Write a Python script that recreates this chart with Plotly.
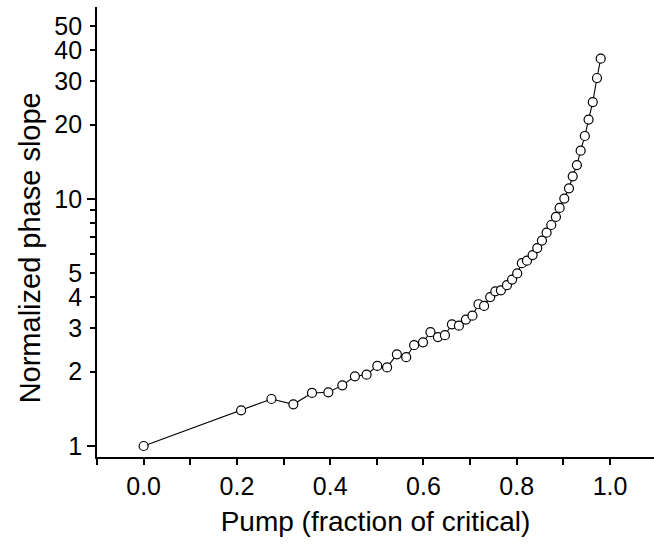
import plotly.graph_objects as go

pump = [0.0, 0.209, 0.274, 0.321, 0.361, 0.396, 0.426, 0.453, 0.478, 0.501,
        0.522, 0.543, 0.563, 0.580, 0.599, 0.615, 0.631, 0.646, 0.661, 0.676,
        0.691, 0.705, 0.718, 0.730, 0.743, 0.754, 0.766, 0.779, 0.790, 0.801,
        0.811, 0.822, 0.834, 0.844, 0.854, 0.864, 0.874, 0.884, 0.892, 0.902,
        0.912, 0.920, 0.929, 0.937, 0.946, 0.954, 0.963, 0.972, 0.980]
slope = [1.0, 1.395, 1.55, 1.475, 1.64, 1.65, 1.76, 1.915, 1.945, 2.11,
         2.08, 2.35, 2.29, 2.56, 2.63, 2.89, 2.76, 2.81, 3.11, 3.07,
         3.25, 3.37, 3.75, 3.69, 4.01, 4.23, 4.27, 4.48, 4.72, 5.0,
         5.5, 5.63, 5.93, 6.33, 6.79, 7.31, 7.85, 8.46, 9.2, 10.04,
         11.05, 12.36, 13.73, 15.7, 18.0, 20.97, 24.7, 30.9, 37.0]

y_labeled = [1, 2, 3, 4, 5, 10, 20, 30, 40, 50]
y_minor = [6, 7, 8, 9]
y_decades = [1, 10]
x_ticks = [0.0, 0.2, 0.4, 0.6, 0.8, 1.0]

FONT = "Liberation Sans, Arial, sans-serif"
YR = [-0.0445, 1.7775]

fig = go.Figure()
fig.add_trace(go.Scatter(
    x=pump, y=slope, mode="lines+markers",
    line=dict(color="black", width=1.1),
    marker=dict(symbol="circle", size=9, color="white",
                line=dict(color="black", width=1.2)),
    showlegend=False, hoverinfo="skip"))
# helper trace for the decade tick overlay axis
fig.add_trace(go.Scatter(x=[pump[0]], y=[slope[0]], yaxis="y2", mode="markers",
                         marker=dict(opacity=0), showlegend=False, hoverinfo="skip"))

fig.update_layout(
    width=654, height=550,
    margin=dict(l=97, r=0, t=7, b=93),
    paper_bgcolor="white", plot_bgcolor="white",
    font=dict(family=FONT, color="black"),
    xaxis=dict(
        range=[-0.1, 1.0943], showgrid=False, zeroline=False,
        showline=True, linecolor="black", linewidth=1.8,
        tickmode="array", tickvals=x_ticks, ticktext=[f"{v:.1f}" for v in x_ticks],
        ticks="outside", ticklen=6, tickwidth=1.5, tickcolor="black",
        tickfont=dict(size=25, family=FONT),
        minor=dict(tickmode="array", tickvals=[-0.1, 0.1, 0.3, 0.5, 0.7, 0.9, 1.1],
                   ticks="outside", ticklen=6, tickwidth=1.5, tickcolor="black"),
        title=dict(text="Pump (fraction of critical)", font=dict(size=28, family=FONT), standoff=12),
    ),
    yaxis=dict(
        type="log", range=YR, showgrid=False, zeroline=False,
        showline=True, linecolor="black", linewidth=1.8,
        tickmode="array", tickvals=y_labeled, ticktext=[str(v) for v in y_labeled],
        ticks="outside", ticklen=5, tickwidth=1.5, tickcolor="black",
        ticklabelstandoff=3,
        tickfont=dict(size=25, family=FONT),
        minor=dict(tickmode="array", tickvals=y_minor,
                   ticks="outside", ticklen=5, tickwidth=1.5, tickcolor="black"),
    ),
    yaxis2=dict(
        type="log", range=YR, overlaying="y", side="left", showgrid=False,
        zeroline=False, showline=False, showticklabels=False,
        tickmode="array", tickvals=y_decades,
        ticks="outside", ticklen=9, tickwidth=1.5, tickcolor="black",
    ),
    annotations=[dict(
        text="Normalized phase slope", textangle=-90,
        xref="paper", yref="paper", x=-0.12, y=0.464,
        xanchor="center", yanchor="middle", showarrow=False,
        font=dict(size=29, family=FONT, color="black"),
    )],
)

fig.write_html("out.html")
